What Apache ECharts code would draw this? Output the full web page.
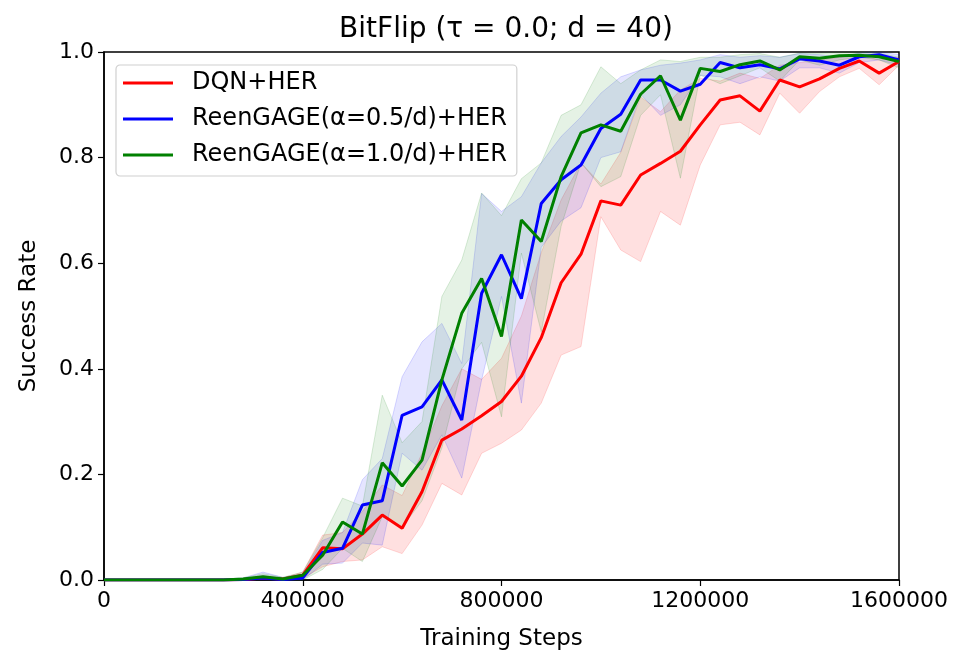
<!DOCTYPE html>
<html>
<head>
<meta charset="utf-8">
<script src="https://cdn.jsdelivr.net/npm/echarts@6/dist/echarts.min.js"></script>
<style>
  html, body { margin: 0; padding: 0; background: #fff; }
  #main { width: 969px; height: 669px; }
</style>
</head>
<body>
<div id="main"></div>
<script>
// training steps, one point every 40000
var steps = [];
for (var k = 0; k <= 40; k++) steps.push(k * 40000);

var names = ['DQN+HER', 'ReenGAGE(α=0.5/d)+HER', 'ReenGAGE(α=1.0/d)+HER'];
var colors = ['#ff0000', '#0000ff', '#008000'];
var fills = ['rgba(255,0,0,0.12)', 'rgba(0,0,255,0.10)', 'rgba(0,128,0,0.10)'];
var edges = ['rgba(255,0,0,0.15)', 'rgba(0,0,255,0.15)', 'rgba(0,128,0,0.15)'];

var dqnMean = [0,0,0,0,0,0,0,0.001,0.004,0.002,0.009,0.061,0.059,0.087,0.123,0.098,0.167,0.265,0.286,0.311,
  0.338,0.386,0.459,0.563,0.617,0.718,0.710,0.767,0.789,0.812,0.862,0.909,0.917,0.888,0.947,0.934,0.949,0.969,0.983,0.960,0.982];
var dqnLow = [0,0,0,0,0,0,0,0,0.001,0,0.003,0.025,0.035,0.038,0.063,0.050,0.104,0.183,0.161,0.240,
  0.259,0.284,0.335,0.426,0.442,0.688,0.625,0.603,0.698,0.672,0.786,0.862,0.867,0.843,0.922,0.884,0.925,0.953,0.969,0.938,0.975];
var dqnHigh = [0,0,0,0,0,0,0,0.002,0.008,0.004,0.015,0.085,0.090,0.130,0.180,0.160,0.240,0.330,0.400,0.380,
  0.420,0.500,0.620,0.720,0.790,0.750,0.810,0.915,0.887,0.928,0.950,0.945,0.960,0.950,0.975,0.980,0.985,0.990,0.995,0.985,0.990];

var r05Mean = [0,0,0,0,0,0,0,0.001,0.004,0.001,0.004,0.052,0.060,0.142,0.150,0.312,0.328,0.379,0.303,0.543,
  0.616,0.533,0.713,0.758,0.786,0.855,0.882,0.947,0.947,0.926,0.939,0.980,0.970,0.976,0.968,0.987,0.983,0.975,0.991,0.995,0.985];
var r05Low = [0,0,0,0,0,0,0,0,0,0,0,0.030,0.032,0.070,0.066,0.240,0.208,0.275,0.193,0.379,
  0.537,0.335,0.630,0.680,0.705,0.800,0.811,0.920,0.880,0.900,0.956,0.953,0.940,0.953,0.945,0.970,0.970,0.960,0.980,0.985,0.975];
var r05High = [0,0,0,0,0,0,0.002,0.004,0.015,0.005,0.012,0.075,0.090,0.190,0.230,0.385,0.451,0.486,0.410,0.732,
  0.698,0.726,0.790,0.840,0.877,0.922,0.953,0.966,0.975,0.979,0.985,0.995,0.990,0.993,0.990,0.997,0.995,0.990,0.998,1.000,0.995];

var r10Mean = [0,0,0,0,0,0,0,0.002,0.006,0.002,0.009,0.047,0.110,0.087,0.222,0.178,0.227,0.379,0.505,0.571,
  0.461,0.682,0.641,0.764,0.847,0.862,0.850,0.920,0.955,0.871,0.969,0.963,0.976,0.983,0.966,0.991,0.988,0.993,0.994,0.991,0.982];
var r10Low = [0,0,0,0,0,0,0,0,0.001,0,0,0.020,0.060,0.035,0.120,0.100,0.150,0.250,0.400,0.450,
  0.309,0.619,0.470,0.670,0.790,0.745,0.764,0.880,0.919,0.761,0.956,0.940,0.955,0.970,0.945,0.985,0.975,0.985,0.990,0.985,0.970];
var r10High = [0,0,0,0,0,0,0,0.004,0.012,0.005,0.015,0.080,0.155,0.140,0.350,0.260,0.300,0.537,0.606,0.733,
  0.690,0.760,0.790,0.880,0.900,0.972,0.940,0.966,0.985,0.982,0.990,0.990,0.995,0.997,0.990,0.998,0.998,0.999,1.000,0.998,0.990];

var xTicks = [0, 400000, 800000, 1200000, 1600000];

var means = [dqnMean, r05Mean, r10Mean];
var lows = [dqnLow, r05Low, r10Low];
var highs = [dqnHigh, r05High, r10High];

function pairs(arr) {
  return arr.map(function (v, i) { return [steps[i], v]; });
}

// whole band drawn as one polygon, on the first data item
function band(low, high, fill, edge) {
  return function (params, api) {
    if (params.dataIndex !== 0) return;
    var pts = [];
    for (var i = 0; i < high.length; i++) pts.push(api.coord([steps[i], high[i]]));
    for (var j = low.length - 1; j >= 0; j--) pts.push(api.coord([steps[j], low[j]]));
    return {
      type: 'polygon',
      shape: { points: pts },
      style: { fill: fill, stroke: edge, lineWidth: 1 }
    };
  };
}

var series = [];
for (var s = 0; s < 3; s++) {
  series.push({
    name: 'band' + s, type: 'custom', silent: true, z: 1,
    renderItem: band(lows[s], highs[s], fills[s], edges[s]),
    encode: { x: 0, y: 1 },
    data: pairs(highs[s])
  });
}
for (var s2 = 0; s2 < 3; s2++) {
  series.push({
    name: names[s2], type: 'line', symbol: 'none', z: 3,
    data: pairs(means[s2]),
    itemStyle: { color: colors[s2] },
    lineStyle: { color: colors[s2], width: 3 }
  });
}

var chart = echarts.init(document.getElementById('main'));
chart.setOption({
  animation: false,
  textStyle: { fontFamily: 'DejaVu Sans' },
  title: {
    text: 'BitFlip (τ = 0.0; d = 40)',
    left: 501, top: 11, textAlign: 'center',
    textStyle: { fontFamily: 'DejaVu Sans', fontSize: 28, fontWeight: 'normal', color: '#000' }
  },
  grid: {
    left: 104, right: 70, top: 52, bottom: 89,
    show: true, borderColor: '#000', borderWidth: 1.5, backgroundColor: 'transparent'
  },
  legend: {
    data: names,
    orient: 'vertical',
    left: 116, top: 65,
    padding: [5, 10, 8, 7],
    itemGap: 10,
    itemWidth: 50, itemHeight: 3,
    icon: 'rect',
    backgroundColor: '#fff',
    borderColor: '#d0d0d0', borderWidth: 1.2, borderRadius: 4,
    textStyle: { fontFamily: 'DejaVu Sans', fontSize: 24, lineHeight: 26, color: '#000', padding: [0, 0, 0, 14] }
  },
  xAxis: {
    type: 'value', min: 0, max: 1600000, interval: 400000,
    name: 'Training Steps', nameLocation: 'middle', nameGap: 48,
    nameTextStyle: { fontFamily: 'DejaVu Sans', fontSize: 23, color: '#000' },
    axisLine: { show: true, lineStyle: { color: '#000', width: 1.5 } },
    axisTick: { show: true, length: 6, lineStyle: { color: '#000', width: 1.2 } },
    axisLabel: {
      fontFamily: 'DejaVu Sans', fontSize: 22, color: '#000', margin: 10,
      formatter: function (v) { return xTicks.indexOf(v) >= 0 ? String(v) : ''; }
    },
    splitLine: { show: false }
  },
  yAxis: {
    type: 'value', min: 0, max: 1, interval: 0.2,
    name: 'Success Rate', nameLocation: 'middle', nameGap: 63,
    nameTextStyle: { fontFamily: 'DejaVu Sans', fontSize: 23, color: '#000' },
    axisLine: { show: true, lineStyle: { color: '#000', width: 1.5 } },
    axisTick: { show: true, length: 6, lineStyle: { color: '#000', width: 1.2 } },
    axisLabel: {
      fontFamily: 'DejaVu Sans', fontSize: 22, color: '#000', margin: 10,
      formatter: function (v) { return v.toFixed(1); }
    },
    splitLine: { show: false }
  },
  series: series
});
</script>
</body>
</html>
